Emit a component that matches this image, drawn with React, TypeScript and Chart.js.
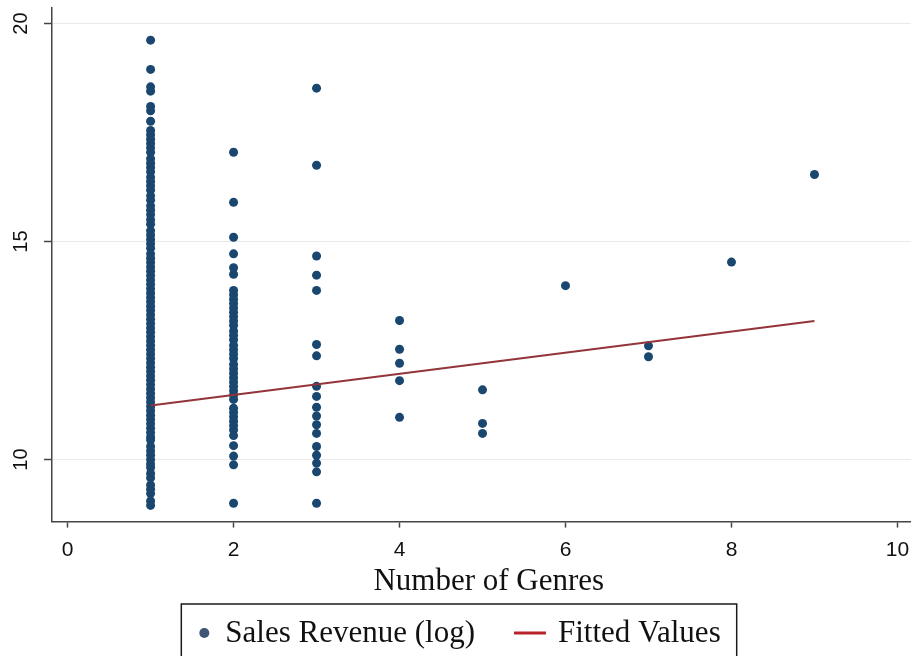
import { useEffect, useRef } from "react";
import { Chart, registerables } from "chart.js";

Chart.register(...registerables);

// ---- Data ----
const genreCounts = [1, 2, 3, 4, 5, 6, 7, 8, 9];

const salesAt1 = [
  19.62, 18.95, 18.55, 18.45, 18.1, 18.0, 17.76,
  17.55, 17.45, 17.35, 17.25, 17.15, 17.05, 16.9, 16.8, 16.7, 16.6,
  16.48, 16.38, 16.28, 16.18, 16.05, 15.95, 15.82, 15.72, 15.62, 15.5,
  15.4, 15.25, 15.15, 15.05, 14.95, 14.85, 14.72, 14.62, 14.52, 14.42,
  14.32, 14.22, 14.12, 14.02, 13.92, 13.82, 13.72, 13.62, 13.52, 13.42,
  13.32, 13.22, 13.12, 13.02, 12.92, 12.82, 12.72, 12.62, 12.52, 12.42,
  12.32, 12.22, 12.12, 12.02, 11.92, 11.82, 11.72, 11.62, 11.52, 11.42,
  11.32, 11.22, 11.12, 11.02, 10.92, 10.82, 10.72, 10.62, 10.52, 10.45,
  10.3, 10.2, 10.1, 10.0, 9.9, 9.82, 9.68, 9.58, 9.42, 9.32, 9.22, 9.05, 8.95,
];
const salesAt2 = [
  17.05, 15.9, 15.1, 14.72, 14.4, 14.25, 13.88, 13.78, 13.68, 13.58,
  13.48, 13.38, 13.28, 13.18, 13.08, 12.95, 12.85, 12.75, 12.62, 12.52,
  12.42, 12.32, 12.18, 12.08, 11.98, 11.88, 11.78, 11.68, 11.58, 11.48,
  11.38, 11.18, 11.08, 10.98, 10.88, 10.78, 10.68, 10.55, 10.32, 10.08,
  9.88, 9.0,
];
const salesAt3 = [
  18.52, 16.75, 14.67, 14.23, 13.88, 12.64, 12.38, 11.68, 11.45, 11.2,
  11.0, 10.8, 10.6, 10.3, 10.1, 9.92, 9.72, 9.0,
];
const salesAt4 = [13.19, 12.53, 12.21, 11.81, 10.97];
const salesAt5 = [11.6, 10.83, 10.6];
const salesAt6 = [13.99];
const salesAt7 = [12.61, 12.36];
const salesAt8 = [14.53];
const salesAt9 = [16.54];

const salesByGenreCount = [
  salesAt1, salesAt2, salesAt3, salesAt4, salesAt5,
  salesAt6, salesAt7, salesAt8, salesAt9,
];

const fittedX = [1, 9];
const fittedY = [11.24, 13.18];

const xTicks = [0, 2, 4, 6, 8, 10];
const yTicks = [10, 15, 20];

const seriesLabels = ["Sales Revenue (log)", "Fitted Values"];
const xAxisTitle = "Number of Genres";

// ---- Styles ----
const NAVY = "#1a476f";
const MAROON = "#93343a";
const SANS = '"Liberation Sans", Arial, sans-serif';
const SERIF = '"Liberation Serif", "Times New Roman", serif';

const boxedLegend = {
  id: "boxedLegend",
  afterDraw(chart: any) {
    const ctx = chart.ctx as CanvasRenderingContext2D;
    const labels = chart.data.datasets.map((d: any) => d.label as string);
    ctx.save();
    ctx.font = `31px ${SERIF}`;
    ctx.textBaseline = "middle";
    ctx.textAlign = "left";
    const w1 = ctx.measureText(labels[0]).width;
    const w2 = ctx.measureText(labels[1]).width;
    const padL = 23, dotGap = 21, itemGap = 39, lineLen = 32, lineGap = 12, padR = 16;
    const total = padL + dotGap + w1 + itemGap + lineLen + lineGap + w2 + padR;
    const centerX = 459;
    const boxLeft = centerX - total / 2;
    const boxTop = 604;
    const cy = 633;
    ctx.strokeStyle = "#1a1a1a";
    ctx.lineWidth = 1.5;
    ctx.strokeRect(boxLeft, boxTop, total, 80);
    const dotX = boxLeft + padL;
    ctx.fillStyle = "#3f5573";
    ctx.beginPath();
    ctx.arc(dotX, cy, 5, 0, Math.PI * 2);
    ctx.fill();
    ctx.fillStyle = "#111";
    const t1 = dotX + dotGap;
    ctx.fillText(labels[0], t1, cy + 1);
    const lx0 = t1 + w1 + itemGap;
    ctx.strokeStyle = "#b8232b";
    ctx.lineWidth = 3;
    ctx.beginPath();
    ctx.moveTo(lx0, cy);
    ctx.lineTo(lx0 + lineLen, cy);
    ctx.stroke();
    ctx.fillStyle = "#111";
    ctx.fillText(labels[1], lx0 + lineLen + lineGap, cy + 1);
    ctx.restore();
  },
};

export default function App() {
  const canvasRef = useRef<HTMLCanvasElement | null>(null);

  useEffect(() => {
    document.body.style.margin = "0";
    const canvas = canvasRef.current;
    if (!canvas) return;

    const scatterPoints = genreCounts.flatMap((g, i) =>
      salesByGenreCount[i].map((v) => ({ x: g, y: v }))
    );
    const fittedPoints = fittedX.map((x, i) => ({ x, y: fittedY[i] }));

    const chart = new Chart(canvas, {
      type: "scatter",
      data: {
        datasets: [
          {
            type: "scatter",
            label: seriesLabels[0],
            data: scatterPoints,
            pointRadius: 4.5,
            pointHoverRadius: 4.5,
            pointBackgroundColor: NAVY,
            pointBorderWidth: 0,
            borderWidth: 0,
            order: 2,
          },
          {
            type: "line",
            label: seriesLabels[1],
            data: fittedPoints,
            borderColor: MAROON,
            borderWidth: 2,
            pointRadius: 0,
            showLine: true,
            fill: false,
            order: 1,
          } as any,
        ],
      },
      options: {
        animation: false,
        responsive: false,
        maintainAspectRatio: false,
        layout: { padding: { top: 8, left: 0, right: 0, bottom: 56 } },
        plugins: {
          legend: { display: false },
          tooltip: { enabled: false },
        },
        scales: {
          x: {
            type: "linear",
            position: "bottom",
            min: -0.188,
            max: 10.338,
            afterBuildTicks: (scale: any) => {
              scale.ticks = xTicks.map((v) => ({ value: v }));
            },
            afterFit: (scale: any) => {
              scale.height = 78.4;
              scale.paddingLeft = 0;
              scale.paddingRight = 0;
            },
            grid: {
              drawOnChartArea: false,
              drawTicks: true,
              tickLength: 6,
              tickColor: "#444",
              tickWidth: 1.5,
            },
            border: { display: true, color: "#444", width: 1.5 },
            ticks: {
              font: { family: SANS, size: 21 },
              color: "#111",
              padding: 10,
              maxRotation: 0,
              minRotation: 0,
            },
            title: {
              display: true,
              text: xAxisTitle,
              color: "#111",
              font: { family: SERIF, size: 31 },
              padding: { top: 0, bottom: 0 },
            },
          },
          y: {
            type: "linear",
            position: "left",
            min: 8.578,
            max: 20.358,
            afterBuildTicks: (scale: any) => {
              scale.ticks = yTicks.map((v) => ({ value: v }));
            },
            afterFit: (scale: any) => {
              scale.width = 52;
              scale.paddingTop = 0;
              scale.paddingBottom = 0;
            },
            grid: {
              color: "#e9e9e9",
              lineWidth: 1,
              drawTicks: true,
              tickLength: 8,
              tickColor: "#444",
              tickWidth: 1.5,
            },
            border: { display: true, color: "#444", width: 1.5 },
            ticks: {
              font: { family: SANS, size: 20 },
              color: "#111",
              padding: 11,
              minRotation: 90,
              maxRotation: 90,
              crossAlign: "center",
            },
          },
        },
      },
      plugins: [boxedLegend],
    });

    return () => chart.destroy();
  }, []);

  return (
    <div
      style={{
        position: "fixed",
        left: 0,
        top: 0,
        width: 911,
        height: 656,
        overflow: "hidden",
        background: "#fff",
      }}
    >
      <canvas ref={canvasRef} width={930} height={656} style={{ width: 930, height: 656 }} />
    </div>
  );
}
